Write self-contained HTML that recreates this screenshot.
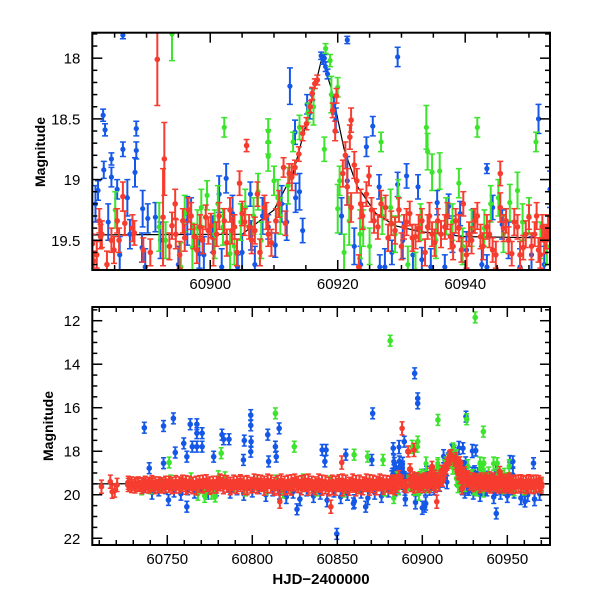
<!DOCTYPE html>
<html><head><meta charset="utf-8"><style>
html,body{margin:0;padding:0;background:#fff;}
svg{display:block;font-family:"Liberation Sans",sans-serif;}
</style></head><body>
<svg id="chart" width="600" height="600" viewBox="0 0 600 600" xmlns="http://www.w3.org/2000/svg">
<defs>
<clipPath id="clipTop"><rect x="92.3" y="32.7" width="457.7" height="237.3"/></clipPath>
<clipPath id="clipBot"><rect x="92.3" y="307" width="457.7" height="238"/></clipPath>
</defs>
<rect width="600" height="600" fill="#fff"/>
<g id="top"></g>
<g id="bot"></g>
<text x="0" y="0" transform="translate(45,152) rotate(-90)" text-anchor="middle" font-size="14" font-weight="bold">Magnitude</text>
<text x="0" y="0" transform="translate(53,426) rotate(-90)" text-anchor="middle" font-size="14" font-weight="bold">Magnitude</text>
<text x="321" y="584" text-anchor="middle" font-size="15" font-weight="bold">HJD−2400000</text>
</svg>
<script>
// ---------- data (zoomed panel) ----------
const blueT = [60883.2,60883.5,60882.4,60883.3,60884.5,60884.5,60885.4,60886.3,60887.4,60888.4,60888.4,60888.2,60889.4,60889.3,60890.2,60891.4,60886.3,60896.4,60898.3,60901.4,60902.5,60904.3,60906.3,60906.4,60909.1,60910.2,60912.5,60913.3,60913.4,60914.5,60915.2,60917.4,60917.7,60918.1,60918.4,60917.9,60919.4,60919.7,60921.5,60921.5,60925.5,60924.5,60926.5,60926.6,60928.5,60929.4,60929.4,60930.8,60932.6,60933.2,60935.6,60937.4,60939.2,60941.3,60943.4,60944.3,60945.8,60951.5,60953.3,60943.4,60936.8,60916.0,60915.6];
const blueM = [18.47,18.59,19.09,18.92,18.83,18.98,19.08,18.75,19.45,18.58,18.76,18.94,19.24,19.56,19.32,19.31,17.81,19.34,19.61,19.12,18.99,19.72,19.12,19.46,19.39,19.54,18.23,18.61,19.15,19.42,18.38,17.98,18.02,18.07,18.13,18.00,18.38,18.51,17.85,19.01,18.56,18.73,19.06,19.72,19.60,17.99,19.04,18.97,19.06,19.66,19.19,19.22,19.28,19.34,18.91,19.23,19.37,18.50,19.08,19.72,19.72,18.30,18.45];
const blueE = [0.05,0.05,0.08,0.07,0.05,0.08,0.08,0.06,0.12,0.06,0.07,0.12,0.15,0.12,0.12,0.12,0.03,0.2,0.12,0.15,0.12,0.1,0.1,0.12,0.1,0.1,0.15,0.1,0.12,0.1,0.08,0.03,0.03,0.04,0.04,0.03,0.08,0.1,0.03,0.2,0.08,0.08,0.1,0.1,0.1,0.08,0.1,0.1,0.1,0.1,0.1,0.1,0.1,0.1,0.04,0.1,0.12,0.12,0.15,0.1,0.1,0.05,0.05];
const blue2T = [60882.0,60884.0,60885.8,60887.0,60889.8,60892.2,60895.0,60897.0,60899.0,60900.4,60901.8,60903.5,60905.0,60907.0,60908.2,60911.2,60912.0,60914.0,60920.6,60922.6,60923.6,60927.4,60930.2,60931.8,60934.6,60938.0,60940.2,60942.6,60946.8,60948.6,60950.4,60952.4];
const blue2M = [19.20,19.35,19.62,19.15,19.72,19.50,19.70,19.30,19.62,19.45,19.72,19.28,19.60,19.70,19.30,19.20,19.35,19.10,19.30,19.55,19.70,19.72,19.50,19.62,19.72,19.45,19.58,19.70,19.50,19.72,19.62,19.70];
const greenT = [60894.0,60902.2,60902.0,60909.1,60909.1,60910.0,60913.0,60914.0,60909.1,60899.5,60898.6,60900.7,60892.0,60885.1,60917.9,60918.1,60918.8,60920.0,60920.0,60920.3,60921.8,60926.8,60933.9,60934.1,60934.8,60936.0,60939.0,60941.9,60945.2,60947.0,60948.2,60951.1,60932.2,60929.5,60928.3,60903.1,60905.5,60897.2,60895.4,60907.5,60911.0,60915.3,60923.5,60938.0,60943.0,60950.0,60952.8];
const greenM = [17.80,18.57,19.39,18.60,18.69,19.01,18.69,18.57,18.81,19.13,19.23,19.45,19.39,19.25,18.75,17.92,18.02,18.24,19.24,19.01,19.34,18.69,18.57,18.77,18.94,18.93,19.03,18.57,19.15,19.19,19.09,18.69,19.75,19.15,19.23,19.61,19.23,19.56,19.72,19.10,19.30,18.45,19.45,19.35,19.40,19.30,19.55];
const greenE = [0.22,0.08,0.15,0.1,0.1,0.12,0.08,0.1,0.12,0.12,0.15,0.2,0.2,0.15,0.1,0.04,0.05,0.08,0.2,0.12,0.2,0.08,0.18,0.15,0.15,0.15,0.12,0.08,0.15,0.15,0.15,0.08,0.15,0.15,0.15,0.2,0.15,0.2,0.2,0.15,0.15,0.08,0.2,0.15,0.15,0.15,0.15];
const green2T = [60893.0,60896.0,60898.0,60901.2,60903.8,60904.8,60906.8,60908.0,60910.6,60912.2,60916.2,60919.0,60921.0,60924.0,60925.0,60927.0,60929.0,60931.0,60933.0,60935.4,60937.0,60939.6,60941.0,60944.0,60946.0,60949.0,60951.8];
const green2M = [19.50,19.28,19.40,19.20,19.55,19.35,19.30,19.50,19.15,19.05,18.40,18.30,19.60,19.40,19.55,19.30,19.45,19.70,19.35,19.50,19.30,19.55,19.40,19.20,19.45,19.35,19.50];
const redT = [60891.7,60892.8,60892.6,60905.7,60881.5,60881.7,60882.6,60882.8,60884.5,60885.4,60885.7,60886.3,60886.6,60888.1,60889.5,60894.5,60894.6,60895.7,60896.6,60897.5,60898.4,60899.3,60900.1,60901.0,60902.2,60903.1,60903.8,60904.6,60905.0,60906.1,60907.4,60908.5,60909.1,60910.3,60911.8,60911.5,60912.4,60913.3,60913.9,60914.5,60915.1,60915.7,60916.0,60916.4,60916.8,60919.2,60919.8,60919.6,60921.9,60922.1,60921.5,60922.1,60923.0,60923.6,60924.5,60924.9,60925.3,60925.7,60926.3,60927.5,60928.4,60929.6,60930.4,60931.3,60932.2,60933.2,60934.1,60934.8,60935.7,60936.8,60937.7,60938.5,60939.4,60939.7,60940.6,60941.5,60942.4,60943.4,60944.3,60945.5,60945.5,60946.4,60947.3,60948.2,60949.1,60950.0,60950.9,60951.5,60952.1,60952.7,60923.3];
const redM = [18.01,18.83,19.31,18.72,19.53,19.67,19.34,19.47,19.50,19.34,19.50,19.14,19.36,19.44,19.58,19.20,19.45,19.34,19.25,19.47,19.39,19.31,19.38,19.45,19.34,19.25,19.39,19.03,19.28,19.39,19.12,19.23,19.45,19.34,19.36,18.90,18.95,18.90,18.79,18.62,18.54,18.40,18.29,18.21,18.18,18.43,18.31,18.60,18.65,18.51,19.06,19.23,19.01,19.20,19.12,18.97,19.25,19.34,19.39,19.23,19.36,19.25,19.39,19.28,19.47,19.34,19.39,19.45,19.34,19.39,19.47,19.34,19.58,19.20,19.45,19.34,19.47,19.39,19.58,18.95,19.23,19.34,19.61,19.39,19.56,19.31,19.45,19.58,19.39,19.47,19.72];
const redE = [0.38,0.3,0.4,0.05,0.08,0.08,0.1,0.1,0.1,0.1,0.1,0.12,0.1,0.1,0.1,0.12,0.12,0.1,0.1,0.1,0.1,0.1,0.1,0.1,0.1,0.1,0.1,0.1,0.1,0.1,0.1,0.1,0.1,0.1,0.1,0.08,0.08,0.06,0.06,0.06,0.05,0.05,0.05,0.04,0.04,0.06,0.06,0.08,0.1,0.1,0.15,0.12,0.1,0.12,0.1,0.08,0.1,0.1,0.1,0.1,0.1,0.1,0.1,0.1,0.1,0.1,0.1,0.1,0.1,0.1,0.1,0.1,0.1,0.1,0.1,0.1,0.1,0.1,0.1,0.1,0.12,0.1,0.1,0.1,0.1,0.1,0.1,0.1,0.1,0.1,0.1];
const red2T = [60882.2,60883.0,60883.8,60884.9,60887.8,60890.6,60893.6,60894.0,60895.2,60896.0,60897.0,60897.9,60898.8,60899.7,60900.5,60901.4,60902.6,60903.4,60904.2,60905.4,60906.5,60907.0,60907.8,60908.8,60909.6,60910.8,60912.8,60920.8,60921.2,60922.6,60923.9,60926.8,60927.9,60929.0,60930.0,60930.8,60931.7,60932.7,60933.7,60934.4,60935.2,60936.2,60937.2,60938.1,60939.0,60940.2,60941.0,60941.9,60942.8,60943.8,60944.8,60946.0,60946.8,60947.7,60948.6,60949.5,60950.4,60951.2,60951.8,60952.4,60953.0];
const red2M = [19.62,19.45,19.70,19.58,19.40,19.60,19.55,19.38,19.62,19.48,19.30,19.58,19.50,19.42,19.60,19.30,19.52,19.42,19.60,19.35,19.50,19.42,19.60,19.30,19.52,19.20,18.98,18.95,18.80,18.88,19.30,19.20,19.48,19.42,19.55,19.35,19.48,19.40,19.60,19.30,19.52,19.45,19.30,19.55,19.40,19.62,19.50,19.30,19.55,19.45,19.62,19.40,19.50,19.35,19.62,19.45,19.55,19.30,19.62,19.50,19.40];
const modelT = [60705,60905,60910,60913,60915,60917.5,60919,60921,60923,60926,60929,60933,60940,60975];
const modelM = [19.50,19.45,19.25,18.95,18.55,18.00,18.25,18.75,19.05,19.28,19.38,19.43,19.47,19.50];

// ---------- data (full panel, additional) ----------
const bandT = [60727,60729,60731,60733,60735,60737,60739,60741,60743,60745,60747,60749,60751,60753,60755,60757,60759,60761,60763,60765,60767,60769,60771,60773,60775,60777,60779,60781,60783,60785,60787,60789,60791,60793,60795,60797,60799,60801,60803,60805,60807,60809,60811,60813,60815,60817,60819,60821,60823,60825,60827,60829,60831,60833,60835,60837,60839,60841,60843,60845,60847,60849,60851,60853,60855,60857,60859,60861,60863,60865,60867,60869,60871,60873,60875,60877,60879,60881];
const bandA = [19.45,19.48,19.50,19.55,19.52,19.58,19.50,19.55,19.48,19.60,19.52,19.45,19.58,19.50,19.62,19.48,19.55,19.42,19.60,19.50,19.45,19.58,19.40,19.55,19.48,19.62,19.45,19.52,19.40,19.58,19.50,19.62,19.45,19.55,19.68,19.42,19.50,19.60,19.38,19.55,19.45,19.35,19.62,19.50,19.42,19.58,19.45,19.65,19.38,19.52,19.60,19.42,19.55,19.35,19.62,19.48,19.58,19.40,19.65,19.50,19.70,19.45,19.55,19.35,19.62,19.50,19.58,19.42,19.65,19.48,19.55,19.38,19.60,19.45,19.52,19.40,19.58,19.45];
const bandB = [19.55,19.60,19.62,19.48,19.65,19.45,19.62,19.42,19.65,19.48,19.62,19.60,19.45,19.65,19.42,19.62,19.40,19.68,19.45,19.65,19.70,19.42,19.62,19.38,19.68,19.45,19.62,19.35,19.65,19.42,19.70,19.40,19.65,19.38,19.45,19.70,19.62,19.35,19.65,19.40,19.72,19.60,19.40,19.72,19.65,19.35,19.70,19.40,19.72,19.35,19.45,19.70,19.38,19.72,19.45,19.70,19.35,19.72,19.42,19.75,19.40,19.72,19.38,19.75,19.40,19.72,19.35,19.75,19.40,19.70,19.35,19.72,19.40,19.70,19.35,19.68,19.42,19.65];
const lateT = [60953.5,60955,60956.5,60958,60959.5,60961,60962.5,60964,60965.5,60967,60968.5,60970];
const lateA = [19.45,19.60,19.40,19.55,19.62,19.42,19.58,19.45,19.65,19.40,19.55,19.50];
const lateB = [19.65,19.40,19.62,19.38,19.45,19.65,19.38,19.62,19.40,19.60,19.42,19.62];
const bandBlueT = [60736,60741,60745,60749,60754,60758,60762,60766,60770,60774,60779,60783,60787,60791,60795,60800,60804,60808,60812,60816,60820,60824,60828,60832,60836,60840,60844,60848,60852,60856,60860,60864,60868,60872,60876,60880,60884,60890,60896,60900,60902,60925,60930,60934,60938,60942,60946,60950,60954,60958,60962,60966,60969];
const bandBlueM = [19.60,19.90,19.75,19.65,19.80,19.95,19.70,19.85,19.60,19.90,19.75,19.65,19.85,19.70,19.95,19.80,19.65,20.00,19.75,19.90,20.10,19.85,20.20,19.75,20.05,19.90,20.25,19.80,20.10,19.95,20.30,19.85,20.15,19.90,20.05,19.80,19.75,20.20,20.35,20.60,20.40,19.85,19.90,20.00,19.75,20.10,19.90,20.05,19.85,20.15,20.00,20.20,19.95];
const bandGreenT = [60735,60740,60746,60752,60758,60764,60768,60772,60776,60780,60784,60790,60796,60802,60808,60814,60818,60822,60830,60838,60846,60854,60862,60870,60878,60886,60892,60898,60904,60930,60936,60942,60948,60954,60960,60966,60970];
const bandGreenM = [19.70,19.65,19.55,19.40,19.50,19.30,19.95,20.05,19.90,19.20,19.25,19.60,19.75,19.50,19.70,19.40,19.85,19.60,19.35,19.75,19.45,19.80,19.60,19.55,19.75,19.70,19.50,19.95,19.60,19.70,19.80,19.50,19.65,19.75,19.70,19.60,19.55];
const outBlueT = [60736.5,60747.8,60753.6,60750.7,60761.5,60759.7,60763.5,60764.7,60767.4,60767.4,60767.4,60770.5,60770.5,60754.7,60747.8,60739.4,60761.5,60777.3,60782.2,60783.1,60786.3,60795.3,60794.8,60799.1,60799.1,60799.3,60799.1,60809.1,60809.6,60813.6,60815.8,60814.1,60826.3,60841.1,60843.4,60842.7,60849.7,60855.0,60870.8,60870.3,60882.9,60889.4,60895.5,60897.3,60897.3,60886.5,60901.4,60923.9,60925.7,60931.4,60943.5,60953.2,60965.4,60960.4,60866.7,60859.5];
const outBlueM = [16.92,16.84,16.49,20.24,20.55,17.64,16.76,17.79,16.76,17.17,17.79,17.17,17.79,18.06,18.55,18.78,18.25,18.25,17.24,17.45,17.45,17.51,18.40,16.34,16.81,17.56,18.02,17.24,18.47,17.79,16.95,18.25,20.67,17.94,17.94,18.47,21.80,18.16,16.26,18.40,17.86,17.56,14.42,15.57,15.80,18.47,20.55,17.86,16.41,17.97,20.86,18.47,18.55,20.31,20.55,20.40];
const outGreenT = [60881.1,60931.1,60813.6,60909.2,60935.9,60897.3,60897.0,60824.7,60859.9,60867.8,60751.1,60781.7,60926.1,60936.1,60944.0,60772.5,60778.2,60876.9,60883.2];
const outGreenM = [12.92,11.85,16.26,16.56,17.10,17.56,17.79,17.79,18.16,18.25,18.52,18.09,16.53,18.55,18.55,19.93,20.08,18.40,20.15];
const outRedT = [60888.1,60895.1,60816.2,60908.5,60711.3,60717.6,60719.1,60852.6,60846.2,60716.5,60720.5];
const outRedM = [16.95,17.94,20.32,20.32,19.63,19.86,19.81,18.52,20.55,19.40,19.55];

// ---------- axes ----------
const NS = "http://www.w3.org/2000/svg";
function mk(parent, tag, attrs){ const e=document.createElementNS(NS,tag); for(const k in attrs) e.setAttribute(k,attrs[k]); parent.appendChild(e); return e; }
const topAx = {x0:92.3,x1:550,y0:32.7,y1:270,t0:60881.5,t1:60953.3,m0:17.79,m1:19.745};
const botAx = {x0:92.3,x1:550,y0:307,y1:545,t0:60705.9,t1:60975.1,m0:11.37,m1:22.31};
function sx(ax,t){ return ax.x0+(t-ax.t0)/(ax.t1-ax.t0)*(ax.x1-ax.x0); }
function sy(ax,m){ return ax.y0+(m-ax.m0)/(ax.m1-ax.m0)*(ax.y1-ax.y0); }
const COL = {red:"#f63c2e", blue:"#1558e8", green:"#3ce42c"};

function drawSeries(g, ax, T, M, E, color, name, r, cap, defE){
  for(let i=0;i<T.length;i++){
    const x=sx(ax,T[i]), y=sy(ax,M[i]);
    const e = E ? E[i] : defE;
    const ya=sy(ax,M[i]-e), yb=sy(ax,M[i]+e);
    const pt = mk(g,"g",{});
    
    
    mk(pt,"line",{x1:x,y1:ya,x2:x,y2:yb,stroke:color,"stroke-width":2});
    mk(pt,"line",{x1:x-cap,y1:ya,x2:x+cap,y2:ya,stroke:color,"stroke-width":1.5});
    mk(pt,"line",{x1:x-cap,y1:yb,x2:x+cap,y2:yb,stroke:color,"stroke-width":1.5});
    mk(pt,"circle",{cx:x,cy:y,r:r,fill:color});
  }
}
function drawModel(g, ax, name){
  let d="";
  for(let i=0;i<modelT.length;i++){ d+=(i?"L":"M")+sx(ax,modelT[i]).toFixed(2)+" "+sy(ax,modelM[i]).toFixed(2); }
  const p=mk(g,"path",{d:d,fill:"none",stroke:"#000","stroke-width":1.2});
  
  
}
function drawFrame(g, ax, xMaj, xMin, yMaj, yMin, xFmt, yFmt, xLabY){
  const fr=mk(g,"rect",{x:ax.x0,y:ax.y0,width:ax.x1-ax.x0,height:ax.y1-ax.y0,fill:"none",stroke:"#000","stroke-width":2});
  
  
  const tk=mk(g,"g",{stroke:"#000","stroke-width":1.5});
  for(let t=Math.ceil(ax.t0/xMin)*xMin; t<=ax.t1; t+=xMin){
    const maj = Math.abs(t/xMaj-Math.round(t/xMaj))<1e-6; const L=maj?10:5; const x=sx(ax,t);
    mk(tk,"line",{x1:x,y1:ax.y1,x2:x,y2:ax.y1-L}); mk(tk,"line",{x1:x,y1:ax.y0,x2:x,y2:ax.y0+L});
    if(maj){ const tx=mk(g,"text",{x:x,y:xLabY,"text-anchor":"middle","font-size":15}); tx.textContent=xFmt(t);
      
       }
  }
  for(let k=Math.ceil(ax.m0/yMin-1e-6); k*yMin<=ax.m1+1e-6; k++){
    const m=k*yMin; const maj=Math.abs(m/yMaj-Math.round(m/yMaj))<1e-6; const L=maj?10:5; const y=sy(ax,m);
    mk(tk,"line",{x1:ax.x0,y1:y,x2:ax.x0+L,y2:y}); mk(tk,"line",{x1:ax.x1,y1:y,x2:ax.x1-L,y2:y});
    if(maj){ const tx=mk(g,"text",{x:ax.x0-12,y:y+5.5,"text-anchor":"end","font-size":15}); tx.textContent=yFmt(m);
      
       }
  }
}

// top panel
const gT=document.getElementById("top");
const cT=mk(gT,"g",{"clip-path":"url(#clipTop)"});
drawModel(cT, topAx, "model-curve-top");
drawSeries(cT, topAx, blueT, blueM, blueE, COL.blue, "blue-point", 2.6, 3, 0.1);
drawSeries(cT, topAx, blue2T, blue2M, null, COL.blue, "blue-point", 2.6, 3, 0.15);
drawSeries(cT, topAx, greenT, greenM, greenE, COL.green, "green-point", 2.6, 3, 0.1);
drawSeries(cT, topAx, green2T, green2M, null, COL.green, "green-point", 2.6, 3, 0.15);
drawSeries(cT, topAx, red2T, red2M, null, COL.red, "red-point", 2.8, 3, 0.11);
drawSeries(cT, topAx, redT, redM, redE, COL.red, "red-point", 2.8, 3, 0.1);
drawFrame(gT, topAx, 20, 5, 0.5, 0.1, t=>String(t), m=>String(Math.round(m*10)/10), 289);

// bottom panel
const gB=document.getElementById("bot");
const cB=mk(gB,"g",{"clip-path":"url(#clipBot)"});
drawModel(cB, botAx, "model-curve-bottom");
drawSeries(cB, botAx, bandBlueT, bandBlueM, null, COL.blue, "blue-point", 2.8, 2.5, 0.3);
drawSeries(cB, botAx, outBlueT, outBlueM, null, COL.blue, "blue-point", 2.8, 2.5, 0.25);
drawSeries(cB, botAx, blueT, blueM, null, COL.blue, "blue-point", 2.6, 2.5, 0.3);
drawSeries(cB, botAx, blue2T, blue2M, null, COL.blue, "blue-point", 2.6, 2.5, 0.3);
drawSeries(cB, botAx, bandGreenT, bandGreenM, null, COL.green, "green-point", 2.8, 2.5, 0.3);
drawSeries(cB, botAx, outGreenT, outGreenM, null, COL.green, "green-point", 2.8, 2.5, 0.25);
drawSeries(cB, botAx, greenT, greenM, null, COL.green, "green-point", 2.6, 2.5, 0.3);
drawSeries(cB, botAx, green2T, green2M, null, COL.green, "green-point", 2.6, 2.5, 0.3);
drawSeries(cB, botAx, bandT, bandA, null, COL.red, "red-point", 3.2, 2.5, 0.3);
drawSeries(cB, botAx, bandT, bandB, null, COL.red, "red-point", 3.2, 2.5, 0.3);
drawSeries(cB, botAx, lateT, lateA, null, COL.red, "red-point", 3.2, 2.5, 0.3);
drawSeries(cB, botAx, lateT, lateB, null, COL.red, "red-point", 3.2, 2.5, 0.3);
drawSeries(cB, botAx, red2T, red2M, null, COL.red, "red-point", 3.2, 2.5, 0.3);
drawSeries(cB, botAx, redT, redM, null, COL.red, "red-point", 3.2, 2.5, 0.25);
drawSeries(cB, botAx, outRedT, outRedM, null, COL.red, "red-point", 2.8, 2.5, 0.3);
drawFrame(gB, botAx, 50, 10, 2, 0.5, t=>String(t), m=>String(Math.round(m)), 564);
</script>
</body></html>
